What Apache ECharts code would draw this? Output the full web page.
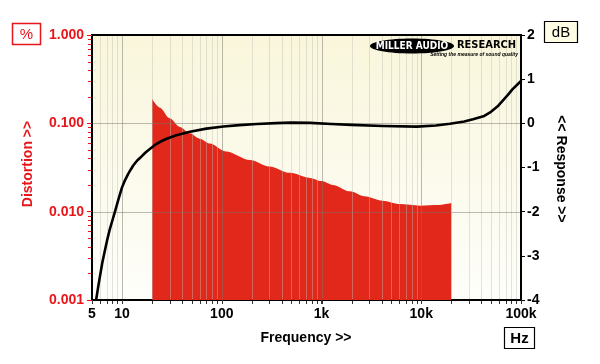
<!DOCTYPE html>
<html><head><meta charset="utf-8">
<script src="https://cdn.jsdelivr.net/npm/echarts@6/dist/echarts.min.js"></script>
<style>html,body{margin:0;padding:0;background:#fff}#c{width:600px;height:364px}</style>
</head><body><div id="c"></div>
<script>
// Frequency (Hz) and THD (%) – red filled area
const distFreq = [20, 24, 30, 38, 48, 60, 76, 110, 192, 300, 483, 766, 1000, 1300, 1930, 2700, 4100, 6050, 9800, 15000, 19400, 20000];
const distPct  = [0.188, 0.150, 0.114, 0.091, 0.077, 0.067, 0.059, 0.048, 0.0384, 0.0325, 0.0275, 0.0241, 0.0222, 0.0201, 0.0170, 0.0149, 0.0133, 0.0122, 0.0117, 0.0119, 0.0124, 0.0125];
// Frequency (Hz) and response (dB) – black line
const respFreq = [5.5, 5.75, 6.0, 6.35, 6.75, 7.1, 7.5, 8.0, 8.5, 9.2, 10, 10.7, 11.5, 12.2, 13, 14.2, 15.7, 17.2, 19, 22, 25, 28, 35, 48, 70, 104, 150, 224, 350, 500, 766, 1260, 2000, 4130, 9000, 14000, 19400, 27000, 33000, 42000, 50000, 58000, 66000, 75000, 82000, 92000, 100000];
const respDb   = [-4.0, -3.72, -3.47, -3.15, -2.87, -2.64, -2.42, -2.2, -2.0, -1.72, -1.45, -1.29, -1.15, -1.05, -0.95, -0.84, -0.75, -0.66, -0.58, -0.47, -0.40, -0.35, -0.27, -0.19, -0.12, -0.07, -0.04, -0.015, 0.005, 0.015, 0.01, -0.015, -0.035, -0.06, -0.075, -0.05, -0.01, 0.04, 0.09, 0.16, 0.26, 0.38, 0.52, 0.66, 0.77, 0.88, 0.96];
// Tick labels
const xTickLabels = {5: '5', 10: '10', 100: '100', 1000: '1k', 10000: '10k', 100000: '100k'};
const distTickLabels = {0.001: '0.001', 0.01: '0.010', 0.1: '0.100', 1: '1.000'};
const respTicks = [-4, -3, -2, -1, 0, 1, 2];

const RED = '#e8161b';
const FILL = '#e2281b';

// gridline positions (axis decorations)
const vGrid = [];
for (let d = 1; d <= 10000; d *= 10) {
  for (let m = 1; m <= 9; m++) {
    const f = m * d;
    if (f <= 5 || f >= 100000) continue;
    vGrid.push([f, 0.1, m === 1 ? 1 : 0]);
  }
}
const hGrid = [];
for (let d = 0.001; d < 0.99; d *= 10) {
  for (let m = 1; m <= 9; m++) {
    const v = +(m * d).toPrecision(3);
    if (m === 1 && v <= 0.0011) continue;
    hGrid.push([10, v, m === 1 ? 1 : 0]);
  }
}

const chart = echarts.init(document.getElementById('c'), null, {renderer: 'canvas'});
const fontFam = 'Arial, "Liberation Sans", sans-serif';
const logoFont = '"DejaVu Sans Condensed", "DejaVu Sans", sans-serif';

function crisp(v) { return Math.round(v) + 0.5; }

chart.setOption({
  animation: false,
  grid: {
    left: 92, right: 79, top: 35, bottom: 64,
    show: true,
    borderColor: '#000', borderWidth: 2,
    backgroundColor: {type: 'linear', x: 0, y: 0, x2: 0, y2: 1,
      colorStops: [{offset: 0, color: '#f9f6db'}, {offset: 1, color: '#fefefb'}]}
  },
  xAxis: [{
    type: 'log', logBase: 10, min: 5, max: 100000,
    axisLine: {onZero: false, lineStyle: {color: '#000', width: 2}},
    axisTick: {show: true, length: 4, lineStyle: {color: '#333'}},
    splitLine: {show: false},
    axisLabel: {
      color: '#000', fontWeight: 'bold', fontSize: 14, fontFamily: fontFam, margin: 7,
      formatter: function (v) { const r = Math.round(v); return xTickLabels[r] || ''; }
    }
  }],
  yAxis: [{
    type: 'log', logBase: 10, min: 0.001, max: 1,
    axisLine: {show: true, onZero: false, lineStyle: {color: '#000', width: 2}},
    axisTick: {show: true, length: 5, lineStyle: {color: RED}},
    splitLine: {show: false},
    axisLabel: {
      color: RED, fontWeight: 'bold', fontSize: 14, fontFamily: fontFam, margin: 8,
      formatter: function (v) {
        for (const k in distTickLabels) { if (Math.abs(Math.log10(v) - Math.log10(+k)) < 0.01) return distTickLabels[k]; }
        return '';
      }
    }
  }, {
    type: 'value', position: 'right', min: respTicks[0], max: respTicks[respTicks.length - 1], interval: 1,
    axisLine: {show: true, onZero: false, lineStyle: {color: '#000', width: 2}},
    axisTick: {show: true, length: 4, lineStyle: {color: '#000'}},
    splitLine: {show: false},
    axisLabel: {color: '#000', fontWeight: 'bold', fontSize: 14, fontFamily: fontFam, margin: 6}
  }],
  series: [{
    name: 'Distortion', type: 'line', xAxisIndex: 0, yAxisIndex: 0, z: 2,
    data: distFreq.map((f, i) => [f, distPct[i]]),
    showSymbol: false, smooth: 0.3, smoothMonotone: 'x',
    lineStyle: {width: 0, color: FILL},
    areaStyle: {color: FILL, opacity: 1, origin: 'start'},
    silent: true
  }, {
    name: 'vgrid', type: 'custom', xAxisIndex: 0, yAxisIndex: 0, z: 3, clip: false, silent: true,
    data: vGrid,
    renderItem: function (params, api) {
      const f = api.value(0), major = api.value(2);
      const top = api.coord([f, 1]), bot = api.coord([f, 0.001]);
      const x = crisp(top[0]);
      return {type: 'group', children: [
        {type: 'line', shape: {x1: x, y1: top[1] + 1, x2: x, y2: bot[1] - 1},
         style: {stroke: major ? 'rgba(120,120,110,0.5)' : 'rgba(190,190,180,0.42)', lineWidth: 1}},
        {type: 'line', shape: {x1: x, y1: bot[1] + 1, x2: x, y2: bot[1] + 4},
         style: {stroke: '#333', lineWidth: 1}}
      ]};
    }
  }, {
    name: 'hgrid', type: 'custom', xAxisIndex: 0, yAxisIndex: 0, z: 3, clip: false, silent: true,
    data: hGrid,
    renderItem: function (params, api) {
      const v = api.value(1), major = api.value(2);
      const l = api.coord([5, v]), r = api.coord([100000, v]);
      const y = crisp(l[1]);
      if (major) {
        return {type: 'line', shape: {x1: l[0] + 1, y1: y, x2: r[0] - 1, y2: y},
          style: {stroke: 'rgba(120,120,110,0.5)', lineWidth: 1}};
      }
      return {type: 'line', shape: {x1: l[0] - 4, y1: y, x2: l[0] - 1, y2: y},
        style: {stroke: RED, lineWidth: 1}};
    }
  }, {
    name: 'Response', type: 'line', xAxisIndex: 0, yAxisIndex: 1, z: 5,
    data: respFreq.map((f, i) => [f, respDb[i]]),
    showSymbol: false, smooth: false,
    lineStyle: {width: 2.6, color: '#000', join: 'round', cap: 'round'},
    silent: true
  }],
  graphic: [
    // unit boxes
    {type: 'rect', shape: {x: 12.5, y: 23.5, width: 28, height: 21}, style: {fill: '#fff', stroke: RED, lineWidth: 1.5}},
    {type: 'text', x: 26.5, y: 34.5, style: {text: '%', fill: RED, font: '15px ' + fontFam, align: 'center', verticalAlign: 'middle'}},
    {type: 'rect', shape: {x: 544.5, y: 21.5, width: 33, height: 21}, style: {fill: '#fffde3', stroke: '#000', lineWidth: 1.2}},
    {type: 'text', x: 561, y: 32.5, style: {text: 'dB', fill: '#000', font: '15px ' + fontFam, align: 'center', verticalAlign: 'middle'}},
    {type: 'rect', shape: {x: 504.5, y: 327.5, width: 30, height: 21}, style: {fill: '#fff', stroke: '#000', lineWidth: 1.2}},
    {type: 'text', x: 519.5, y: 338.5, style: {text: 'Hz', fill: '#000', font: 'bold 15px ' + fontFam, align: 'center', verticalAlign: 'middle'}},
    // axis names
    {type: 'text', x: 306, y: 338, style: {text: 'Frequency >>', fill: '#000', font: 'bold 14px ' + fontFam, align: 'center', verticalAlign: 'middle'}},
    {type: 'text', x: 28, y: 164, rotation: Math.PI / 2, style: {text: 'Distortion >>', fill: RED, font: 'bold 14px ' + fontFam, align: 'center', verticalAlign: 'middle'}},
    {type: 'text', x: 561, y: 169, rotation: -Math.PI / 2, style: {text: '<< Response >>', fill: '#000', font: 'bold 14px ' + fontFam, align: 'center', verticalAlign: 'middle'}},
    // logo
    {type: 'ellipse', z: 10, shape: {cx: 412, cy: 46, rx: 42, ry: 7.5}, style: {fill: '#000'}},
    {type: 'text', z: 11, x: 412, y: 46.5, style: {text: 'MILLER AUDIO', fill: '#fff', font: 'bold 10px ' + logoFont, align: 'center', verticalAlign: 'middle'}},
    {type: 'text', z: 11, x: 486.5, y: 45.5, style: {text: 'RESEARCH', fill: '#000', font: 'bold 11px ' + logoFont, align: 'center', verticalAlign: 'middle'}},
    {type: 'text', z: 11, x: 518, y: 54.5, style: {text: 'Setting the measure of sound quality', fill: '#000', font: 'italic bold 5px ' + fontFam, align: 'right', verticalAlign: 'middle'}}
  ]
});
</script>
</body></html>
